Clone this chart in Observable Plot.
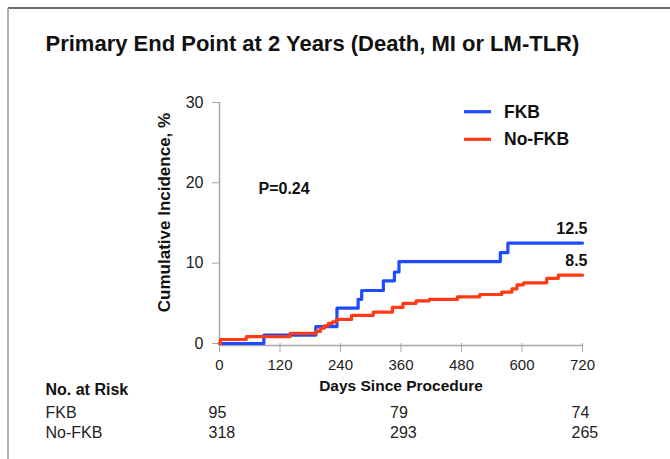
<!DOCTYPE html>
<html><head><meta charset="utf-8">
<script src="https://cdn.jsdelivr.net/npm/d3@7"></script>
<script src="https://cdn.jsdelivr.net/npm/@observablehq/plot@0.6"></script>
<style>body{margin:0;background:#fff;} #chart{position:relative;width:670px;height:459px;}</style>
</head><body><div id="chart"></div>
<script>
// ---- data ----
const seriesNames = ["FKB", "No-FKB"];
const fkbDays = [0, 88, 191, 233, 275, 282, 325, 347, 356, 557, 572, 720];
const fkbInc  = [0, 1.05, 2.1, 4.4, 5.5, 6.6, 7.8, 8.9, 10.2, 11.3, 12.5, 12.5];
const noFkbDays = [0, 2, 53, 140, 192, 200, 208, 216, 224, 232, 262, 305, 343, 364, 390, 416, 472, 516, 560, 580, 590, 603, 649, 672, 720];
const noFkbInc  = [0, 0.5, 0.85, 1.25, 1.5, 1.9, 2.2, 2.5, 2.7, 3.0, 3.5, 3.9, 4.5, 5.0, 5.3, 5.5, 5.8, 6.1, 6.4, 6.8, 7.3, 7.55, 8.1, 8.5, 8.5];
const endValues = [12.5, 8.5];
const xTicks = [0, 120, 240, 360, 480, 600, 720];
const yTicks = [0, 10, 20, 30];
const riskDays = [0, 360, 720];
const riskFKB = [95, 79, 74];
const riskNoFKB = [318, 293, 265];
const pValueText = "P=0.24";
const titleText = "Primary End Point at 2 Years (Death, MI or LM-TLR)";

// ---- build table ----
const rows = [
  ...fkbDays.map((d, i) => ({group: seriesNames[0], day: d, inc: fkbInc[i]})),
  ...noFkbDays.map((d, i) => ({group: seriesNames[1], day: d, inc: noFkbInc[i]}))
];
const endRows = endValues.map((v, i) => ({group: seriesNames[i], v}));

const BLUE = "#1d4bff", RED = "#ff3a14", AXIS = "#a6a6a6", INK = "#111";
const FONT = "'Liberation Sans', Arial, Helvetica, sans-serif";

const chart = Plot.plot({
  width: 670, height: 459,
  marginLeft: 219, marginRight: 88, marginTop: 102, marginBottom: 116,
  style: {fontFamily: FONT, background: "transparent", overflow: "visible", color: INK},
  x: {domain: [0, 720]},
  y: {domain: [0, 30]},
  color: {domain: seriesNames, range: [BLUE, RED]},
  marks: [
    Plot.ruleX([0], {stroke: AXIS, strokeWidth: 1.5}),
    Plot.ruleY([0], {stroke: AXIS, strokeWidth: 1.5, dy: 2}),
    Plot.axisX({ticks: xTicks, tickSize: 9, tickPadding: 7, label: null, fontSize: 15, stroke: AXIS, fill: "#222"}),
    Plot.axisY({ticks: yTicks, tickSize: 7, tickPadding: 9, label: null, fontSize: 16, stroke: AXIS, fill: "#222"}),
    Plot.line(rows, {x: "day", y: "inc", z: "group", stroke: "group", curve: "step-after", strokeWidth: 3.2}),
    Plot.text(endRows, {x: () => 720, y: "v", text: d => d.v.toFixed(1), textAnchor: "end", dx: 5, dy: -14, fontWeight: "bold", fontSize: 16, fill: INK}),
    Plot.text([pValueText], {frameAnchor: "top-left", dx: 39, dy: 86, textAnchor: "start", lineAnchor: "middle", fontWeight: "bold", fontSize: 16, fill: INK}),
    Plot.text(["Cumulative Incidence, %"], {frameAnchor: "left", rotate: -90, dx: -55, dy: -10.5, textAnchor: "middle", lineAnchor: "middle", fontWeight: "bold", fontSize: 17, fill: INK}),
    Plot.text(["Days Since Procedure"], {frameAnchor: "bottom", dy: 42.7, lineAnchor: "middle", fontWeight: "bold", fontSize: 15.5, fill: INK}),
    Plot.text([titleText], {frameAnchor: "top-left", dx: -174, dy: -59, textAnchor: "start", lineAnchor: "middle", fontWeight: "bold", fontSize: 22, fill: INK}),
    Plot.text(["No. at Risk"], {frameAnchor: "bottom-left", dx: -174, dy: 46, textAnchor: "start", lineAnchor: "middle", fontWeight: "bold", fontSize: 16, fill: INK}),
    Plot.text([seriesNames[0]], {frameAnchor: "bottom-left", dx: -174, dy: 69.5, textAnchor: "start", lineAnchor: "middle", fontSize: 16, fill: "#222"}),
    Plot.text([seriesNames[1]], {frameAnchor: "bottom-left", dx: -174, dy: 89.5, textAnchor: "start", lineAnchor: "middle", fontSize: 16, fill: "#222"}),
    Plot.text(riskDays, {x: d => d, text: (d, i) => String(riskFKB[i]), frameAnchor: "bottom", dx: -11, dy: 69.5, textAnchor: "start", lineAnchor: "middle", fontSize: 16, fill: "#222"}),
    Plot.text(riskDays, {x: d => d, text: (d, i) => String(riskNoFKB[i]), frameAnchor: "bottom", dx: -11, dy: 89.5, textAnchor: "start", lineAnchor: "middle", fontSize: 16, fill: "#222"})
  ]
});

// frame border + legend
const svg = d3.select(chart);
svg.append("line").attr("x1", 8).attr("y1", 8).attr("x2", 670).attr("y2", 8).attr("stroke", "#3a3a3a").attr("stroke-width", 1.5);
svg.append("line").attr("x1", 8).attr("y1", 8).attr("x2", 8).attr("y2", 459).attr("stroke", "#9a9a9a").attr("stroke-width", 1.5);
const legend = svg.append("g");
const legendColors = [BLUE, RED];
seriesNames.forEach((name, i) => {
  const y = 111.7 + i * 27.6;
  legend.append("line").attr("x1", 464).attr("x2", 491).attr("y1", y).attr("y2", y).attr("stroke", legendColors[i]).attr("stroke-width", 3.2);
  legend.append("text").attr("x", 504).attr("y", y).attr("dy", "0.35em").attr("text-anchor", "start")
    .attr("font-family", FONT).attr("font-weight", "bold").attr("font-size", 17.5).attr("fill", INK).text(name);
});

document.getElementById("chart").appendChild(chart);
</script>
</body></html>
